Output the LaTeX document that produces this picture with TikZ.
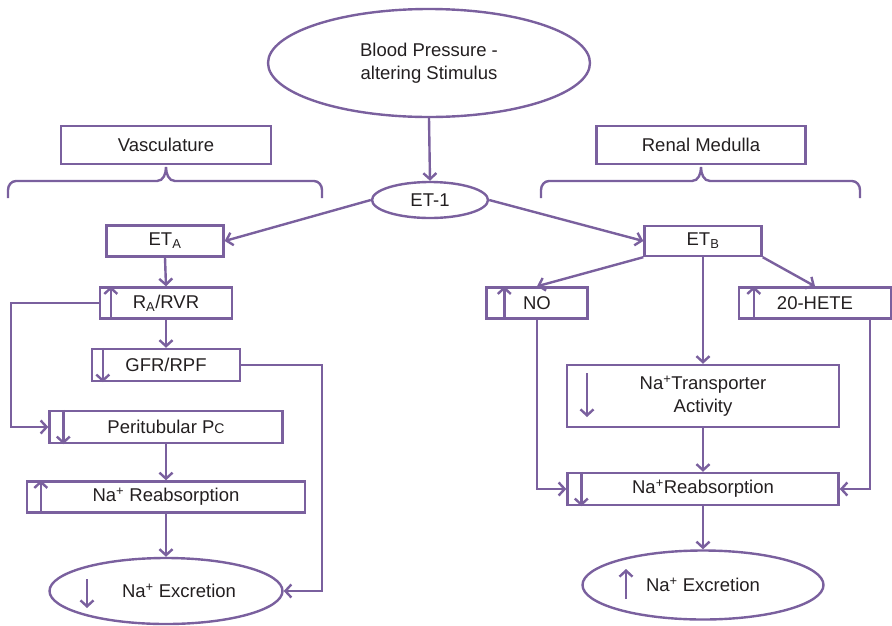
\documentclass[tikz,border=0pt]{standalone}
\usepackage{fontspec}
\setmainfont{Liberation Sans}
\usetikzlibrary{shapes.geometric,arrows.meta}
\definecolor{vio}{RGB}{122,96,158}
\definecolor{ink}{RGB}{35,31,32}

\begin{document}
\begin{tikzpicture}[x=1pt,y=-1pt,
    every node/.style={text=ink,font=\fontsize{18.5}{23}\selectfont},
    box/.style={draw=vio,line width=2.4pt,rectangle,inner sep=0pt,align=center},
    oval/.style={draw=vio,line width=2.4pt,ellipse,inner sep=0pt,align=center},
    line/.style={draw=vio,line width=2.4pt},
    link/.style={line,-{Straight Barb[length=6pt,width=13pt]}}]
    \useasboundingbox (0,0) rectangle (892,625);

    % top
    \node[oval,minimum width=322,minimum height=108] (bps) at (429,63) {Blood Pressure -\\altering Stimulus};
    \node[oval,minimum width=116,minimum height=36] (et) at (430,200) {ET-1};
    \draw[link] (bps.south) -- (et.north);

    % left: vasculature
    \node[box,minimum width=210,minimum height=38] (vas) at (166,145) {Vasculature};
    \draw[line] (8,198) -- (8,190) to[out=90,in=180] (16,181) -- (157,181) to[out=0,in=-90] (166,167)
        to[out=-90,in=180] (175,181) -- (314,181) to[out=0,in=90] (322,190) -- (322,198);
    \node[box,minimum width=117,minimum height=31] (eta) at (165,241) {ET\textsubscript{A}};
    \node[box,minimum width=132,minimum height=31] (ra) at (166,303) {R\textsubscript{A}/RVR};
    \node[box,minimum width=148,minimum height=32] (gfr) at (166,365) {GFR/RPF};
    \node[box,minimum width=233,minimum height=32] (peri) at (166,427) {Peritubular P{\fontsize{14}{14}\selectfont C}};
    \node[box,minimum width=278,minimum height=31] (nal) at (166,497) {Na\textsuperscript{+} Reabsorption};
    \node[oval,minimum width=233,minimum height=66] (exl) at (166,591) {\hspace*{26pt}Na\textsuperscript{+} Excretion};
    \draw[link] ([xshift=12pt]ra.south west) -- ([xshift=12pt]ra.north west);
    \draw[link] ([xshift=12pt]gfr.north west) -- ([xshift=12pt]gfr.south west);
    \draw[link] ([xshift=15pt]peri.north west) -- ([xshift=15pt]peri.south west);
    \draw[link] ([xshift=15pt]nal.south west) -- ([xshift=15pt]nal.north west);
    \draw[link] (87,579) -- (87,608);
    \draw[link] (et.west) -- (eta.east);
    \draw[link] (eta.south) -- (ra.north);
    \draw[link] (ra.south) -- (gfr.north);
    \draw[link] (ra.west) -- ++(-88,0) |- (peri.west);
    \draw[link] (gfr.east) -- ++(81,0) |- (exl.east);
    \draw[link] (peri.south) -- (nal.north);
    \draw[link] (nal.south) -- (exl.north);

    % right: renal medulla
    \node[box,minimum width=209,minimum height=38] (med) at (701,145) {Renal Medulla};
    \draw[line] (541,198) -- (541,190) to[out=90,in=180] (549,181) -- (692,181) to[out=0,in=-90] (701,167)
        to[out=-90,in=180] (710,181) -- (852,181) to[out=0,in=90] (860,190) -- (860,198);
    \node[box,minimum width=117,minimum height=30] (etb) at (703,241) {ET\textsubscript{B}};
    \node[box,minimum width=101,minimum height=31] (no) at (537,303) {NO};
    \node[box,minimum width=152,minimum height=31] (hete) at (815,303) {20-HETE};
    \node[box,minimum width=272,minimum height=62] (tra) at (703,396) {Na\textsuperscript{+}Transporter\\Activity};
    \node[box,minimum width=271,minimum height=32] (nar) at (703,489) {Na\textsuperscript{+}Reabsorption};
    \node[oval,minimum width=241,minimum height=69] (exr) at (703,585) {Na\textsuperscript{+} Excretion};
    \draw[link] ([xshift=19pt]no.south west) -- ([xshift=19pt]no.north west);
    \draw[link] ([xshift=16pt]hete.south west) -- ([xshift=16pt]hete.north west);
    \draw[link] (587,373) -- (587,417);
    \draw[link] ([xshift=15pt]nar.north west) -- ([xshift=15pt]nar.south west);
    \draw[link] (626,599) -- (626,569);
    \draw[link] (et.east) -- (etb.west);
    \draw[link] (etb.south west) -- (no.north);
    \draw[link] (etb.south east) -- (hete.north);
    \draw[link] (etb.south) -- (tra.north);
    \draw[link] (tra.south) -- (nar.north);
    \draw[link] (no.south) |- (nar.west);
    \draw[link] ([xshift=55pt]hete.south) |- (nar.east);
    \draw[link] (nar.south) -- (exr.north);
\end{tikzpicture}
\end{document}
